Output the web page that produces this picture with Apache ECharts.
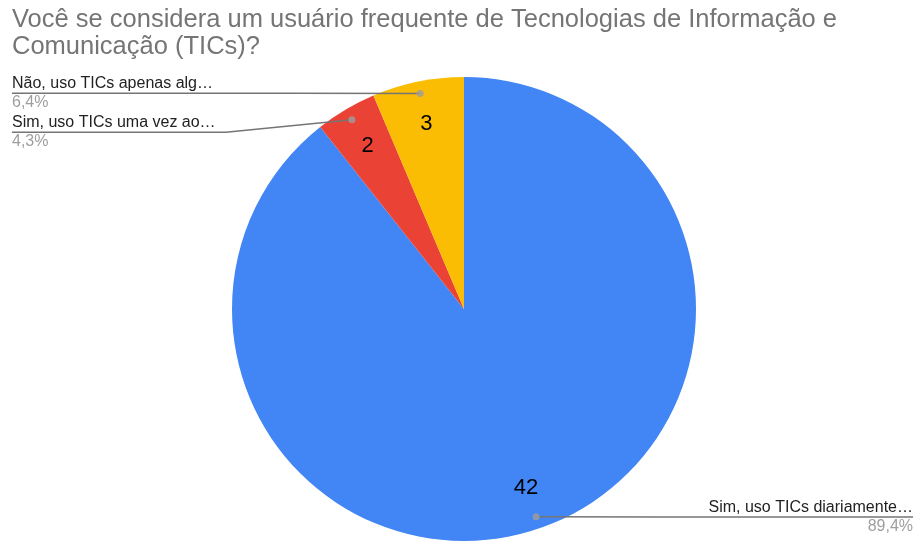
<!DOCTYPE html>
<html>
<head>
<meta charset="utf-8">
<script src="https://cdn.jsdelivr.net/npm/echarts@6/dist/echarts.min.js"></script>
<style>
  html, body { margin: 0; padding: 0; background: #fff; }
  #pie { width: 920px; height: 542px; }
</style>
</head>
<body>
<div id="pie"></div>
<script>
// dados
var titulo = 'Você se considera um usuário frequente de Tecnologias de Informação e\nComunicação (TICs)?';
var categorias = ['Sim, uso TICs diariamente…', 'Sim, uso TICs uma vez ao…', 'Não, uso TICs apenas alg…'];
var respostas = [42, 2, 3];
var cores = ['#4285f4', '#ea4335', '#fbbc04'];

var myChart = echarts.init(document.getElementById('pie'));

var fonte = '"Liberation Sans", Arial, sans-serif';
var centro = [464, 309];
var raio = 232;
var total = respostas.reduce(function (a, b) { return a + b; }, 0);

function fatia(extra) {
    return categorias.map(function (nome, i) {
        var d = { name: nome, value: respostas[i] };
        if (extra) Object.assign(d, extra(i));
        return d;
    });
}

// pontos das linhas (meio de cada fatia)
var meios = [];
var acc = 0;
respostas.forEach(function (v) { meios.push([0.948, acc + v / 2]); acc += v; });

var option = {
    animation: false,
    title: {
        text: titulo,
        left: 7,
        top: 1,
        textStyle: { fontFamily: fonte, fontSize: 25.5, fontWeight: 'normal', color: '#757575', lineHeight: 27 }
    },
    polar: { center: centro, radius: raio },
    angleAxis: { type: 'value', min: 0, max: total, startAngle: 90, show: false },
    radiusAxis: { type: 'value', min: 0, max: 1, show: false },
    series: [
        {
            type: 'pie',
            center: centro,
            radius: raio,
            startAngle: 90,
            silent: true,
            color: cores,
            label: { show: false },
            labelLine: { show: false },
            data: fatia()
        },
        {
            // valores dentro das fatias
            type: 'pie',
            center: centro,
            radius: [140, raio],
            startAngle: 90,
            silent: true,
            itemStyle: { color: 'transparent' },
            label: { position: 'inside', formatter: '{c}', fontFamily: fonte, fontSize: 22, color: '#000' },
            labelLine: { show: false },
            data: fatia()
        },
        {
            // rótulos externos com linha
            type: 'pie',
            z: 5,
            center: centro,
            radius: 220,
            startAngle: 90,
            silent: true,
            itemStyle: { color: 'transparent' },
            label: {
                alignTo: 'edge',
                edgeDistance: 12,
                minMargin: 4,
                formatter: function (p) {
                    return '{nome|' + p.name + '}\n{pct|' + p.percent.toFixed(1).replace('.', ',') + '%}';
                },
                rich: {
                    nome: { fontFamily: fonte, fontSize: 16, color: '#222', lineHeight: 19 },
                    pct: { fontFamily: fonte, fontSize: 16, color: '#9e9e9e', lineHeight: 19 }
                }
            },
            labelLine: { length: 0.1, length2: 20, lineStyle: { color: '#757575', width: 1.5 } },
            labelLayout: function (params) {
                var r = params.labelRect;
                var isLeft = r.x < myChart.getWidth() / 2;
                var p0 = params.labelLinePoints[0];
                var y = r.y + r.height / 2;
                var endX = isLeft ? r.x : r.x + r.width;
                var bendX = p0[0] + (isLeft ? -1 : 1) * Math.min(126, Math.abs(p0[0] - endX));
                return { labelLinePoints: [[p0[0], p0[1]], [bendX, y], [endX, y]] };
            },
            data: fatia(function (i) {
                return i === 0 ? { label: { edgeDistance: 7 } } : {};
            })
        },
        {
            type: 'scatter',
            coordinateSystem: 'polar',
            z: 6,
            silent: true,
            symbolSize: 7,
            itemStyle: { color: '#9e9e9e' },
            data: meios
        }
    ]
};
myChart.setOption(option);
</script>
</body>
</html>
